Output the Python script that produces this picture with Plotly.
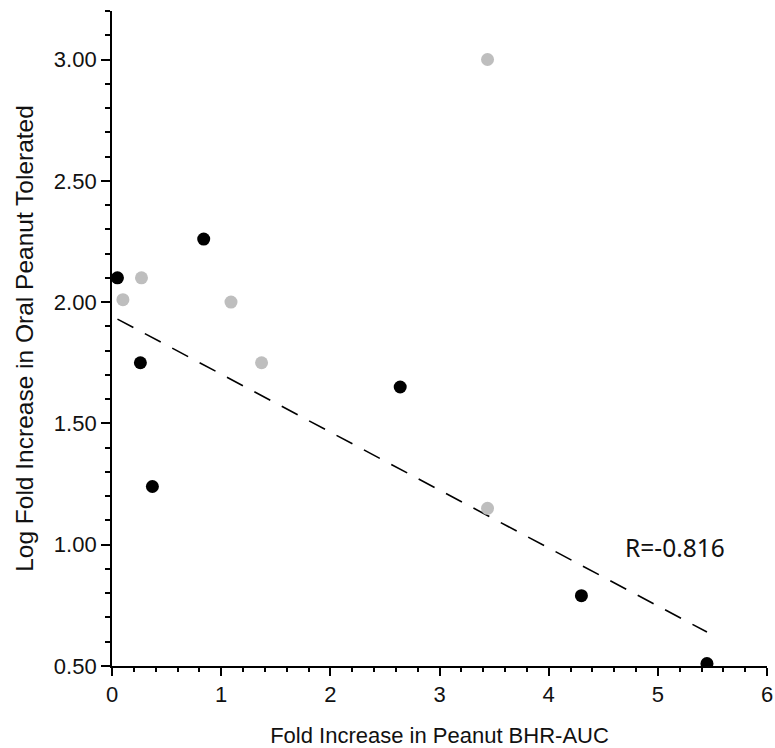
import plotly.graph_objects as go

# Data
black_x = [0.05, 0.84, 0.26, 0.37, 2.64, 4.30, 5.45]
black_y = [2.10, 2.26, 1.75, 1.24, 1.65, 0.79, 0.51]
gray_x = [3.44, 0.27, 0.10, 1.09, 1.37, 3.44]
gray_y = [3.00, 2.10, 2.01, 2.00, 1.75, 1.15]
fit_x = [0.05, 5.45]
fit_y = [1.93, 0.64]
r_label = "R=-0.816"
r_pos = (5.16, 0.99)
x_title = "Fold Increase in Peanut BHR-AUC"
y_title = "Log Fold Increase in Oral Peanut Tolerated"

fig = go.Figure()
fig.add_trace(go.Scatter(x=fit_x, y=fit_y, mode="lines",
                         line=dict(color="black", width=1.6, dash="18px,13px"),
                         showlegend=False, hoverinfo="skip"))
fig.add_trace(go.Scatter(x=gray_x, y=gray_y, mode="markers",
                         marker=dict(color="#bebebe", size=13), showlegend=False))
fig.add_trace(go.Scatter(x=black_x, y=black_y, mode="markers",
                         marker=dict(color="black", size=13), showlegend=False))

fig.add_annotation(x=r_pos[0], y=r_pos[1], text=r_label, showarrow=False,
                   xref="x", yref="y",
                   font=dict(family="Noto Sans", size=24.5, color="#111"))

tickfont = dict(family="Liberation Sans, Arial, sans-serif", size=22, color="#111")
xtitlefont = dict(family="Liberation Sans, Arial, sans-serif", size=22, color="#111")
ytitlefont = dict(family="Liberation Sans, Arial, sans-serif", size=24.5, color="#111")

fig.update_layout(
    width=775, height=748,
    margin=dict(l=112, r=8, t=11, b=82, autoexpand=False),
    paper_bgcolor="white", plot_bgcolor="white",
    xaxis=dict(range=[0, 6], tick0=0, dtick=1, showgrid=False, zeroline=False,
               automargin=False, ticklabeloverflow="allow",
               showline=True, linecolor="black", linewidth=1.8,
               ticks="outside", ticklen=8, tickwidth=1.5, tickcolor="black",
               tickfont=tickfont,
               minor=dict(dtick=0.2, ticks="outside", ticklen=4, tickwidth=1.5,
                          tickcolor="black", showgrid=False),
               title=dict(text=x_title, font=xtitlefont, standoff=22)),
    yaxis=dict(range=[0.5, 3.2], tick0=0.5, dtick=0.5, tickformat=".2f",
               showgrid=False, zeroline=False, automargin=False,
               ticklabeloverflow="allow",
               showline=True, linecolor="black", linewidth=1.8,
               ticks="outside", ticklen=9, tickwidth=1.5, tickcolor="black",
               tickfont=tickfont,
               minor=dict(dtick=0.1, ticks="outside", ticklen=5, tickwidth=1.5,
                          tickcolor="black", showgrid=False),
               title=dict(text=y_title, font=ytitlefont, standoff=13)),
)

fig.write_html("out.html",
               config={"displayModeBar": False},
               post_script="document.body.style.margin='0px';document.body.style.overflow='hidden';")
